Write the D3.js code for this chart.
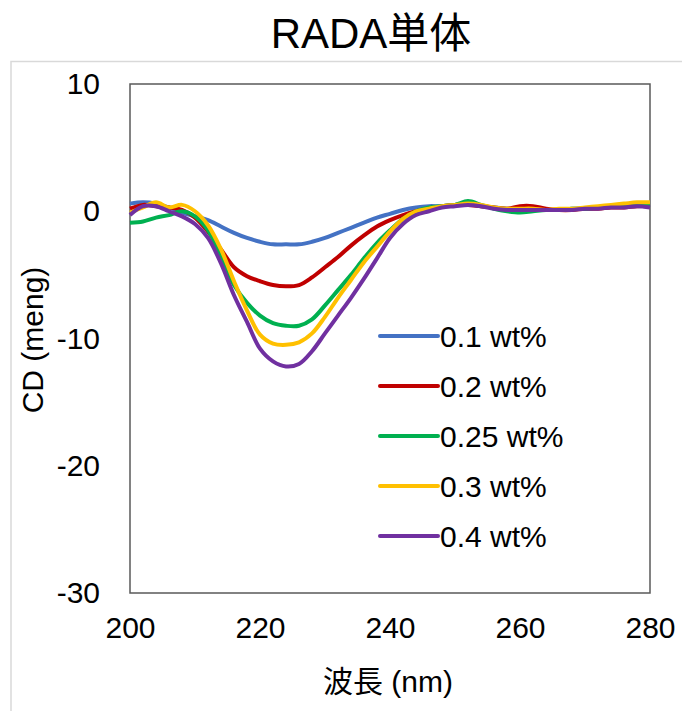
<!DOCTYPE html>
<html>
<head>
<meta charset="utf-8">
<script src="https://cdn.jsdelivr.net/npm/d3@7"></script>
<style>
  body { margin: 0; background: #fff; }
  svg { display: block; font-family: "Liberation Sans", Arial, "Noto Sans CJK JP", sans-serif; }
</style>
</head>
<body>
<svg id="chart" width="682" height="711"></svg>
<script>
// wavelength (nm)
const wavelengths = d3.range(200, 281, 2);

const seriesNames = ['0.1 wt%', '0.2 wt%', '0.25 wt%', '0.3 wt%', '0.4 wt%'];
const seriesColors = ['#4472C4', '#C00000', '#00B050', '#FFC000', '#7030A0'];

// CD values, one per wavelength
const cd01 = [0.6, 0.7, 0.6, 0.3, -0.1, -0.4, -0.7, -1.2, -1.7, -2.1, -2.4, -2.6, -2.6, -2.6, -2.4, -2.1, -1.7, -1.3, -0.9, -0.5,
  -0.2, 0.1, 0.3, 0.4, 0.4, 0.5, 0.6, 0.4, 0.3, 0.2, 0.1, 0.1, 0.1, 0.1, 0.2, 0.2, 0.3, 0.4, 0.4, 0.5, 0.5];
const cd02 = [0.2, 0.5, 0.4, 0.3, 0.1, -0.5, -1.6, -3.0, -4.4, -5.1, -5.5, -5.8, -5.9, -5.8, -5.2, -4.4, -3.6, -2.7, -1.9, -1.2,
  -0.7, -0.3, 0.0, 0.2, 0.4, 0.5, 0.5, 0.4, 0.3, 0.2, 0.4, 0.4, 0.2, 0.1, 0.1, 0.2, 0.2, 0.3, 0.3, 0.4, 0.4];
const cd025 = [-0.9, -0.8, -0.5, -0.3, 0.0, -0.4, -1.5, -3.6, -5.8, -7.2, -8.2, -8.8, -9.0, -9.0, -8.5, -7.4, -6.2, -5.0, -3.7, -2.5,
  -1.5, -0.6, 0.0, 0.3, 0.4, 0.5, 0.8, 0.5, 0.2, 0.0, -0.1, 0.0, 0.1, 0.1, 0.2, 0.2, 0.3, 0.4, 0.5, 0.5, 0.5];
const cd03 = [-0.1, 0.3, 0.7, 0.3, 0.5, 0.0, -1.1, -3.0, -5.5, -7.8, -9.7, -10.4, -10.5, -10.3, -9.6, -8.3, -6.8, -5.4, -4.0, -2.8,
  -1.6, -0.6, 0.0, 0.2, 0.4, 0.5, 0.6, 0.5, 0.3, 0.2, 0.2, 0.2, 0.1, 0.2, 0.2, 0.3, 0.4, 0.5, 0.6, 0.7, 0.7];
const cd04 = [-0.3, 0.4, 0.4, 0.0, -0.4, -1.0, -2.1, -4.1, -6.6, -8.7, -10.8, -11.8, -12.2, -12.0, -11.0, -9.6, -8.2, -6.8, -5.3, -3.7,
  -2.1, -1.0, -0.3, 0.0, 0.3, 0.4, 0.5, 0.4, 0.2, 0.1, 0.1, 0.1, 0.1, 0.1, 0.1, 0.2, 0.2, 0.3, 0.3, 0.4, 0.3];

const xTicks = [200, 220, 240, 260, 280];
const yTicks = [10, 0, -10, -20, -30];

const allSeries = [cd01, cd02, cd025, cd03, cd04];

const svg = d3.select('#chart');
const plot = { left: 130, right: 650, top: 84, bottom: 593 };

const x = d3.scaleLinear().domain([200, 280]).range([plot.left, plot.right]);
const y = d3.scaleLinear().domain([-30, 10]).range([plot.bottom, plot.top]);

// chart area edge
svg.append('path')
  .attr('d', 'M11,711V61.5H682')
  .attr('fill', 'none')
  .attr('stroke', '#d9d9d9')
  .attr('stroke-width', 1.5);

svg.append('text')
  .attr('x', 371).attr('y', 48)
  .attr('text-anchor', 'middle')
  .attr('font-size', 42)
  .text('RADA単体');

// axes, ticks hidden, Excel style labels
const xAxis = svg.append('g')
  .attr('transform', `translate(0,${plot.bottom})`)
  .call(d3.axisBottom(x).tickValues(xTicks).tickSize(0).tickPadding(24));
const yAxis = svg.append('g')
  .attr('transform', `translate(${plot.left},0)`)
  .call(d3.axisLeft(y).tickValues(yTicks).tickSize(0).tickPadding(30));
[xAxis, yAxis].forEach(g => {
  g.select('.domain').remove();
  g.selectAll('text').attr('font-size', 30).attr('fill', '#000')
    .attr('font-family', '"Liberation Sans", Arial, sans-serif');
});
yAxis.selectAll('text').text(d => d < 0 ? '-' + Math.abs(d) : d);

svg.append('rect')
  .attr('x', plot.left).attr('y', plot.top)
  .attr('width', plot.right - plot.left).attr('height', plot.bottom - plot.top)
  .attr('fill', 'none')
  .attr('stroke', '#595959')
  .attr('stroke-width', 1.5);

const line = d3.line()
  .x((d, i) => x(wavelengths[i]))
  .y(d => y(d))
  .curve(d3.curveCatmullRom);

svg.append('g').selectAll('path')
  .data(allSeries)
  .join('path')
  .attr('d', line)
  .attr('fill', 'none')
  .attr('stroke', (d, i) => seriesColors[i])
  .attr('stroke-width', 4)
  .attr('stroke-linejoin', 'round');

// legend
const legend = svg.append('g').selectAll('g')
  .data(seriesNames)
  .join('g')
  .attr('transform', (d, i) => `translate(380,${336 + i * 50})`);
legend.append('line')
  .attr('x1', 0).attr('x2', 58)
  .attr('stroke', (d, i) => seriesColors[i])
  .attr('stroke-width', 4)
  .attr('stroke-linecap', 'round');
legend.append('text')
  .attr('x', 60).attr('y', 11)
  .attr('font-size', 30)
  .text(d => d);

svg.append('text')
  .attr('x', 388).attr('y', 692)
  .attr('text-anchor', 'middle')
  .attr('font-size', 30)
  .text('波長 (nm)');

svg.append('text')
  .attr('transform', 'translate(43,340) rotate(-90)')
  .attr('text-anchor', 'middle')
  .attr('font-size', 30)
  .text('CD (meng)');
</script>
</body>
</html>
